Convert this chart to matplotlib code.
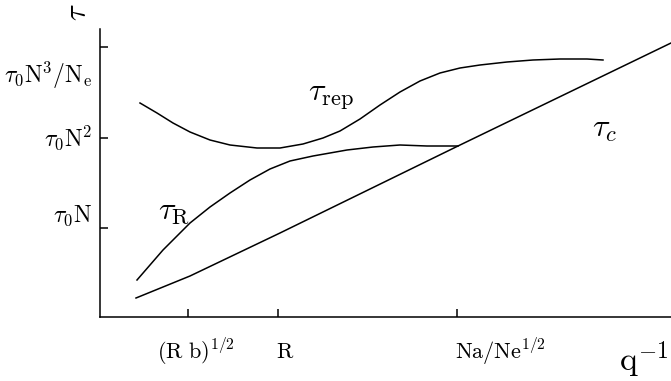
import matplotlib
matplotlib.use("Agg")
import matplotlib.pyplot as plt

plt.rcParams["mathtext.fontset"] = "cm"
plt.rcParams["font.family"] = "serif"

# schematic relaxation times vs. q^-1 (arbitrary units)
tau_c_x = [36, 90, 180, 358, 571]
tau_c_y = [19, 41, 84, 171, 274]

tau_R_x = [37, 50, 63, 77, 90, 110, 130, 150, 170, 190, 213, 247, 273, 300, 327, 347, 358]
tau_R_y = [37, 52, 67, 81, 94, 110, 124, 137, 148, 156, 161, 167, 170, 172, 171, 171, 171]

tau_rep_x = [40, 57, 73, 90, 110, 130, 157, 180, 203, 223, 240, 260, 280, 300, 320,
             340, 360, 380, 407, 433, 460, 487, 503]
tau_rep_y = [214, 204, 194, 185, 177, 172, 169, 169, 173, 179, 186, 198, 212, 225, 236,
             244, 249, 252, 255, 257, 258, 258, 257]

xtick_pos = [88, 178, 357]
xtick_labels = [r"$\mathrm{(R\ b)}^{1/2}$", r"$\mathrm{R}$", r"$\mathrm{Na/Ne}^{1/2}$"]
xlabel_pos = [96, 185, 400]

ytick_pos = [89, 179, 270]
ytick_labels = [r"$\tau_0\mathrm{N}$", r"$\tau_0\mathrm{N}^2$", r"$\tau_0\mathrm{N}^3/\mathrm{N_e}$"]
ylabel_pos = [101, 179, 242]

fig = plt.figure(figsize=(6.71, 3.81), dpi=100)
ax = fig.add_axes([100 / 671, 64 / 381, 571 / 671, 288 / 381])
ax.set_xlim(0, 571)
ax.set_ylim(0, 288)

for s in ["top", "right"]:
    ax.spines[s].set_visible(False)
for s in ["left", "bottom"]:
    ax.spines[s].set_linewidth(1.1)

ax.set_xticks(xtick_pos)
ax.set_yticks(ytick_pos)
ax.set_xticklabels([])
ax.set_yticklabels([])
ax.tick_params(direction="in", length=6, width=1.1)

lw = 1.1
ax.plot(tau_c_x, tau_c_y, color="black", lw=lw, clip_on=False)
ax.plot(tau_R_x, tau_R_y, color="black", lw=lw)
ax.plot(tau_rep_x, tau_rep_y, color="black", lw=lw)

for xp, lab in zip(xlabel_pos, xtick_labels):
    ax.text(xp, -35, lab, ha="center", va="center", fontsize=16, clip_on=False)
for yp, lab in zip(ylabel_pos, ytick_labels):
    ax.text(-8, yp, lab, ha="right", va="center", fontsize=17, clip_on=False)

ax.text(-22, 305, r"$\tau$", rotation=90, ha="center", va="center", fontsize=22, clip_on=False)
ax.text(568, -43, r"$\mathrm{q}^{-1}$", ha="right", va="center", fontsize=24, clip_on=False)

ax.text(231, 220, r"$\tau_{\mathrm{rep}}$", ha="center", va="center", fontsize=23)
ax.text(505, 189, r"$\tau_{c}$", ha="center", va="center", fontsize=23)
ax.text(74, 107, r"$\tau_{\mathrm{R}}$", ha="center", va="center", fontsize=23)

fig.savefig("out.png", dpi=100)
